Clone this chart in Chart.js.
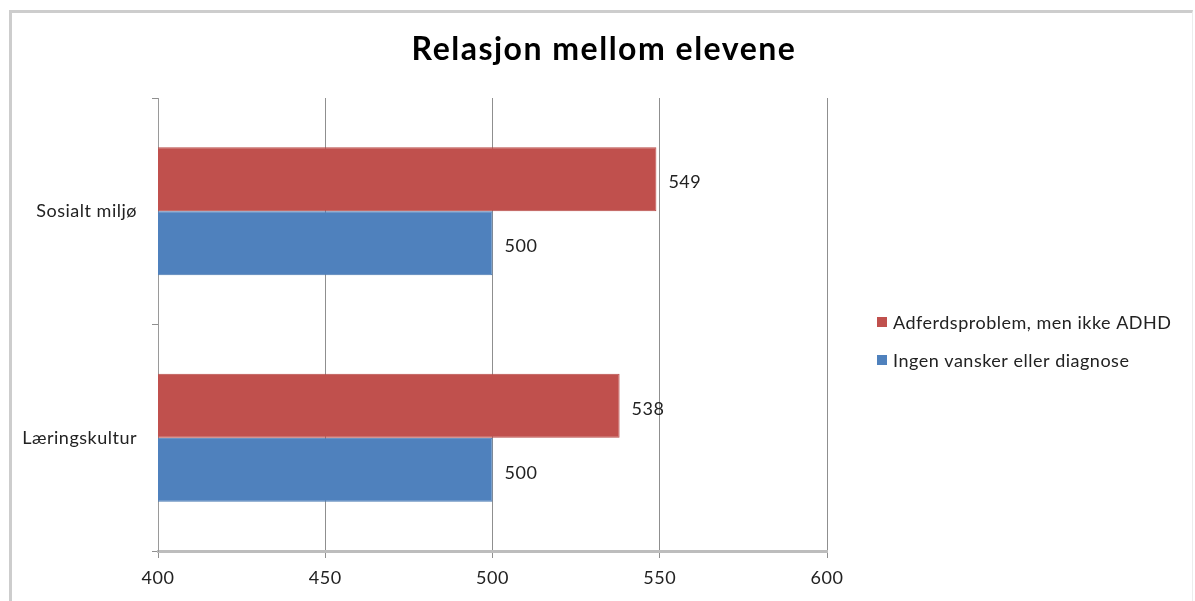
<!DOCTYPE html>
<html>
<head>
<meta charset="utf-8">
<script src="https://cdn.jsdelivr.net/npm/chart.js@4"></script>
<style>
  html, body { margin: 0; padding: 0; background: #fff; }
  #wrap { position: relative; width: 1195px; height: 601px; }
  #ramme { position: absolute; left: 9px; top: 10px; right: 2px; bottom: -5px;
           border-top: 3px solid #cdcdcd; border-left: 3px solid #cdcdcd; border-right: 1px solid #ececec; }
  canvas { position: absolute; left: 0; top: 0; }
</style>
</head>
<body>
<div id="wrap">
  <div id="ramme"></div>
  <canvas id="graf" width="1195" height="601"></canvas>
</div>
<script>
// Kategorier (ovenfra og ned) og serier
const kategorier = ["Sosialt miljø", "Læringskultur"];
const serieNavn = ["Adferdsproblem, men ikke ADHD", "Ingen vansker eller diagnose"];
const adferd = [549, 538];
const ingenVansker = [500, 500];
const aksetall = [400, 450, 500, 550, 600];
const tittel = "Relasjon mellom elevene";

const skrift = "Lato, 'Open Sans', sans-serif";

// litt luft mellom bokstavene, som i Excel-bildet
const bokstavavstand = {
    id: "bokstavavstand",
    beforeDraw(chart) { chart.ctx.letterSpacing = "0.5px"; },
    afterDraw(chart) { chart.ctx.letterSpacing = "0px"; }
};

// Tittel sentrert over hele figuren
const tittelTegner = {
    id: "tittelTegner",
    afterDraw(chart) {
        const ctx = chart.ctx;
        ctx.save();
        ctx.letterSpacing = "1.5px";
        ctx.font = "bold 32px " + skrift;
        ctx.fillStyle = "#000";
        ctx.textAlign = "center";
        ctx.textBaseline = "alphabetic";
        ctx.fillText(tittel, 604, 60);
        ctx.restore();
    }
};

// Verdier til høyre for søylene
const verdiEtiketter = {
    id: "verdiEtiketter",
    afterDatasetsDraw(chart) {
        const ctx = chart.ctx;
        ctx.save();
        ctx.font = "18px " + skrift;
        ctx.fillStyle = "#222";
        ctx.textAlign = "left";
        ctx.textBaseline = "middle";
        chart.data.datasets.forEach((ds, i) => {
            chart.getDatasetMeta(i).data.forEach((bar, j) => {
                ctx.fillText(ds.data[j], bar.x + 12, bar.y + 3);
            });
        });
        ctx.restore();
    }
};

// Forklaring til høyre
const forklaring = {
    id: "forklaring",
    afterDraw(chart) {
        const ctx = chart.ctx;
        ctx.save();
        ctx.letterSpacing = "0.5px";
        ctx.font = "18px " + skrift;
        ctx.textBaseline = "middle";
        chart.data.datasets.forEach((ds, i) => {
            const y = 322 + i * 38;
            ctx.fillStyle = ds.backgroundColor;
            ctx.fillRect(877, y - 5, 10, 10);
            ctx.fillStyle = "#222";
            ctx.fillText(ds.label, 893, y + 1);
        });
        ctx.restore();
    }
};

const ctx = document.getElementById("graf").getContext("2d");

new Chart(ctx, {
    type: "bar",
    data: {
        labels: kategorier,
        datasets: [
            { label: serieNavn[0], data: adferd, backgroundColor: "#C0504D", borderColor: "#B84B48", borderWidth: 1 },
            { label: serieNavn[1], data: ingenVansker, backgroundColor: "#4F81BD", borderColor: "#4A7AB3", borderWidth: 1 }
        ]
    },
    options: {
        indexAxis: "y",
        responsive: false,
        animation: false,
        layout: { padding: { top: 98, left: 0, right: 368, bottom: 0 } },
        datasets: { bar: { categoryPercentage: 0.565, barPercentage: 1 } },
        plugins: {
            legend: { display: false },
            tooltip: { enabled: false },
            title: { display: false }
        },
        scales: {
            x: {
                min: 400,
                max: 600,
                afterBuildTicks(axis) { axis.ticks = aksetall.map(v => ({ value: v })); },
                afterFit(axis) { axis.height = 50; },
                grid: { color: "#8f8f8f", lineWidth: 1, tickLength: 7 },
                border: { color: "#bdbdbd", width: 3 },
                ticks: { color: "#222", padding: 9, font: { family: skrift, size: 18 } }
            },
            y: {
                afterFit(axis) { axis.width = 158; },
                grid: { drawOnChartArea: false, offset: true, color: "#8f8f8f", tickLength: 6 },
                border: { color: "#9a9a9a", width: 1 },
                ticks: { color: "#222", padding: 15, font: { family: skrift, size: 18 } }
            }
        }
    },
    plugins: [bokstavavstand, verdiEtiketter, forklaring, tittelTegner]
});
</script>
</body>
</html>
